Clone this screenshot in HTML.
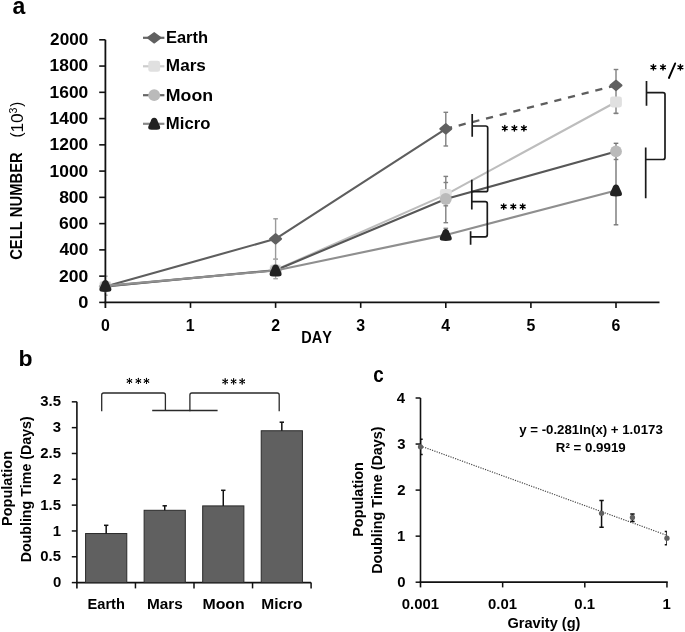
<!DOCTYPE html>
<html><head><meta charset="utf-8"><style>
html,body{margin:0;padding:0;background:#fff;}
svg{display:block;will-change:transform;}
text{font-family:"Liberation Sans",sans-serif;font-kerning:none;}
</style></head><body>
<svg width="685" height="632" viewBox="0 0 685 632">
<rect width="685" height="632" fill="#fff"/>
<text x="12.42" y="14.10" font-size="24.50" textLength="12.83" lengthAdjust="spacingAndGlyphs" fill="#000" font-weight="bold" >a</text>
<line x1="99.20" y1="302.40" x2="105.40" y2="302.40" stroke="#111" stroke-width="1.6" />
<text x="78.18" y="307.80" font-size="15.60" textLength="10.17" lengthAdjust="spacingAndGlyphs" fill="#000" font-weight="bold" >0</text>
<line x1="99.20" y1="276.14" x2="105.40" y2="276.14" stroke="#111" stroke-width="1.6" />
<text x="59.09" y="281.54" font-size="15.60" textLength="29.23" lengthAdjust="spacingAndGlyphs" fill="#000" font-weight="bold" >200</text>
<line x1="99.20" y1="249.88" x2="105.40" y2="249.88" stroke="#111" stroke-width="1.6" />
<text x="59.44" y="255.28" font-size="15.60" textLength="28.87" lengthAdjust="spacingAndGlyphs" fill="#000" font-weight="bold" >400</text>
<line x1="99.20" y1="223.62" x2="105.40" y2="223.62" stroke="#111" stroke-width="1.6" />
<text x="59.06" y="229.02" font-size="15.60" textLength="29.26" lengthAdjust="spacingAndGlyphs" fill="#000" font-weight="bold" >600</text>
<line x1="99.20" y1="197.36" x2="105.40" y2="197.36" stroke="#111" stroke-width="1.6" />
<text x="59.15" y="202.76" font-size="15.60" textLength="29.17" lengthAdjust="spacingAndGlyphs" fill="#000" font-weight="bold" >800</text>
<line x1="99.20" y1="171.10" x2="105.40" y2="171.10" stroke="#111" stroke-width="1.6" />
<text x="49.60" y="176.50" font-size="15.60" textLength="38.71" lengthAdjust="spacingAndGlyphs" fill="#000" font-weight="bold" >1000</text>
<line x1="99.20" y1="144.84" x2="105.40" y2="144.84" stroke="#111" stroke-width="1.6" />
<text x="49.60" y="150.24" font-size="15.60" textLength="38.71" lengthAdjust="spacingAndGlyphs" fill="#000" font-weight="bold" >1200</text>
<line x1="99.20" y1="118.58" x2="105.40" y2="118.58" stroke="#111" stroke-width="1.6" />
<text x="49.60" y="123.98" font-size="15.60" textLength="38.71" lengthAdjust="spacingAndGlyphs" fill="#000" font-weight="bold" >1400</text>
<line x1="99.20" y1="92.32" x2="105.40" y2="92.32" stroke="#111" stroke-width="1.6" />
<text x="49.60" y="97.72" font-size="15.60" textLength="38.71" lengthAdjust="spacingAndGlyphs" fill="#000" font-weight="bold" >1600</text>
<line x1="99.20" y1="66.06" x2="105.40" y2="66.06" stroke="#111" stroke-width="1.6" />
<text x="49.60" y="71.46" font-size="15.60" textLength="38.71" lengthAdjust="spacingAndGlyphs" fill="#000" font-weight="bold" >1800</text>
<line x1="99.20" y1="39.80" x2="105.40" y2="39.80" stroke="#111" stroke-width="1.6" />
<text x="50.10" y="45.20" font-size="15.60" textLength="38.20" lengthAdjust="spacingAndGlyphs" fill="#000" font-weight="bold" >2000</text>
<line x1="190.50" y1="302.40" x2="190.50" y2="307.90" stroke="#111" stroke-width="1.6" />
<line x1="275.60" y1="302.40" x2="275.60" y2="307.90" stroke="#111" stroke-width="1.6" />
<line x1="360.70" y1="302.40" x2="360.70" y2="307.90" stroke="#111" stroke-width="1.6" />
<line x1="445.80" y1="302.40" x2="445.80" y2="307.90" stroke="#111" stroke-width="1.6" />
<line x1="530.90" y1="302.40" x2="530.90" y2="307.90" stroke="#111" stroke-width="1.6" />
<line x1="616.00" y1="302.40" x2="616.00" y2="307.90" stroke="#111" stroke-width="1.6" />
<text x="100.99" y="330.80" font-size="15.60" textLength="8.85" lengthAdjust="spacingAndGlyphs" fill="#000" font-weight="bold" >0</text>
<text x="185.80" y="330.80" font-size="15.60" textLength="8.85" lengthAdjust="spacingAndGlyphs" fill="#000" font-weight="bold" >1</text>
<text x="271.22" y="330.80" font-size="15.60" textLength="8.85" lengthAdjust="spacingAndGlyphs" fill="#000" font-weight="bold" >2</text>
<text x="356.38" y="330.80" font-size="15.60" textLength="8.85" lengthAdjust="spacingAndGlyphs" fill="#000" font-weight="bold" >3</text>
<text x="441.30" y="330.80" font-size="15.60" textLength="8.85" lengthAdjust="spacingAndGlyphs" fill="#000" font-weight="bold" >4</text>
<text x="526.45" y="330.80" font-size="15.60" textLength="8.85" lengthAdjust="spacingAndGlyphs" fill="#000" font-weight="bold" >5</text>
<text x="611.57" y="330.80" font-size="15.60" textLength="8.85" lengthAdjust="spacingAndGlyphs" fill="#000" font-weight="bold" >6</text>
<text x="301.33" y="342.80" font-size="16.00" textLength="30.60" lengthAdjust="spacingAndGlyphs" fill="#000" font-weight="bold" >DAY</text>
<g transform="translate(22.40,259.20) rotate(-90)"><text x="-0.61" y="0" font-size="15.60" textLength="107.51" lengthAdjust="spacingAndGlyphs" fill="#000" font-weight="bold">CELL NUMBER</text></g>
<g transform="translate(21.75,136.60) rotate(-90)"><text x="-0.94" y="0" font-size="17.20" textLength="5.02" lengthAdjust="spacingAndGlyphs" fill="#000" font-weight="normal">(</text></g>
<g transform="translate(22.60,131.20) rotate(-90)"><text x="-1.31" y="0" font-size="16.20" textLength="19.19" lengthAdjust="spacingAndGlyphs" fill="#000" font-weight="normal">10</text></g>
<g transform="translate(16.90,113.00) rotate(-90)"><text x="-0.40" y="0" font-size="10.90" textLength="5.87" lengthAdjust="spacingAndGlyphs" fill="#000" font-weight="normal">3</text></g>
<g transform="translate(21.75,106.60) rotate(-90)"><text x="-0.09" y="0" font-size="17.20" textLength="4.90" lengthAdjust="spacingAndGlyphs" fill="#000" font-weight="normal">)</text></g>
<line x1="275.60" y1="218.80" x2="275.60" y2="259.20" stroke="#9a9a9a" stroke-width="1.4" />
<line x1="273.30" y1="218.80" x2="277.90" y2="218.80" stroke="#9a9a9a" stroke-width="1.4" />
<line x1="273.30" y1="259.20" x2="277.90" y2="259.20" stroke="#9a9a9a" stroke-width="1.4" />
<line x1="445.80" y1="112.30" x2="445.80" y2="146.00" stroke="#808080" stroke-width="1.4" />
<line x1="443.50" y1="112.30" x2="448.10" y2="112.30" stroke="#808080" stroke-width="1.4" />
<line x1="443.50" y1="146.00" x2="448.10" y2="146.00" stroke="#808080" stroke-width="1.4" />
<line x1="616.00" y1="69.50" x2="616.00" y2="101.50" stroke="#808080" stroke-width="1.4" />
<line x1="613.70" y1="69.50" x2="618.30" y2="69.50" stroke="#808080" stroke-width="1.4" />
<line x1="613.70" y1="101.50" x2="618.30" y2="101.50" stroke="#808080" stroke-width="1.4" />
<line x1="105.40" y1="276.20" x2="105.40" y2="295.20" stroke="#aaaaaa" stroke-width="1.4" />
<line x1="105.40" y1="276.20" x2="107.70" y2="276.20" stroke="#aaaaaa" stroke-width="1.4" />
<line x1="105.40" y1="295.20" x2="107.70" y2="295.20" stroke="#aaaaaa" stroke-width="1.4" />
<line x1="275.60" y1="259.20" x2="275.60" y2="278.70" stroke="#aaaaaa" stroke-width="1.4" />
<line x1="273.30" y1="259.20" x2="277.90" y2="259.20" stroke="#aaaaaa" stroke-width="1.4" />
<line x1="273.30" y1="278.70" x2="277.90" y2="278.70" stroke="#aaaaaa" stroke-width="1.4" />
<line x1="445.80" y1="176.40" x2="445.80" y2="222.70" stroke="#808080" stroke-width="1.4" />
<line x1="443.50" y1="176.40" x2="448.10" y2="176.40" stroke="#808080" stroke-width="1.4" />
<line x1="443.50" y1="222.70" x2="448.10" y2="222.70" stroke="#808080" stroke-width="1.4" />
<line x1="616.00" y1="113.40" x2="616.00" y2="113.40" stroke="#808080" stroke-width="1.4" />
<line x1="613.70" y1="113.40" x2="618.30" y2="113.40" stroke="#808080" stroke-width="1.4" />
<line x1="613.70" y1="113.40" x2="618.30" y2="113.40" stroke="#808080" stroke-width="1.4" />
<line x1="616.00" y1="143.30" x2="616.00" y2="224.80" stroke="#777777" stroke-width="1.4" />
<line x1="613.70" y1="143.30" x2="618.30" y2="143.30" stroke="#777777" stroke-width="1.4" />
<line x1="613.70" y1="224.80" x2="618.30" y2="224.80" stroke="#777777" stroke-width="1.4" />
<line x1="445.80" y1="228.30" x2="445.80" y2="236.00" stroke="#8a8a8a" stroke-width="1.4" />
<line x1="443.50" y1="228.30" x2="448.10" y2="228.30" stroke="#8a8a8a" stroke-width="1.4" />
<line x1="443.50" y1="236.00" x2="448.10" y2="236.00" stroke="#8a8a8a" stroke-width="1.4" />
<line x1="443.50" y1="182.50" x2="448.10" y2="182.50" stroke="#808080" stroke-width="1.4" />
<line x1="443.50" y1="205.80" x2="448.10" y2="205.80" stroke="#808080" stroke-width="1.4" />
<line x1="613.70" y1="159.50" x2="618.30" y2="159.50" stroke="#808080" stroke-width="1.4" />
<line x1="616.00" y1="102.00" x2="616.00" y2="113.40" stroke="#808080" stroke-width="1.4" />
<line x1="105.40" y1="39.80" x2="105.40" y2="307.90" stroke="#111" stroke-width="1.8" />
<line x1="104.50" y1="302.40" x2="659.50" y2="302.40" stroke="#111" stroke-width="1.8" />
<polyline points="105.40,286.40 275.60,238.80 445.80,128.80" fill="none" stroke="#5e5e5e" stroke-width="2.1" stroke-linejoin="round"/>
<line x1="445.80" y1="128.80" x2="616.00" y2="85.40" stroke="#5e5e5e" stroke-width="2.3" stroke-dasharray="7.2 6.9" stroke-dashoffset="0.8"/>
<path d="M100.10,286.40L105.40,281.90L110.70,286.40L105.40,290.90Z" fill="#606060" stroke="#606060" stroke-width="2.4" stroke-linejoin="round"/>
<path d="M270.30,238.80L275.60,234.30L280.90,238.80L275.60,243.30Z" fill="#606060" stroke="#606060" stroke-width="2.4" stroke-linejoin="round"/>
<path d="M440.50,128.80L445.80,124.30L451.10,128.80L445.80,133.30Z" fill="#606060" stroke="#606060" stroke-width="2.4" stroke-linejoin="round"/>
<path d="M610.70,85.40L616.00,80.90L621.30,85.40L616.00,89.90Z" fill="#606060" stroke="#606060" stroke-width="2.4" stroke-linejoin="round"/>
<polyline points="105.40,286.40 275.60,270.00 445.80,194.60 616.00,102.00" fill="none" stroke="#bdbdbd" stroke-width="2.1" stroke-linejoin="round"/>
<rect x="99.50" y="280.90" width="11.8" height="11" rx="2.4" fill="#e0e0e0"/>
<rect x="269.70" y="264.50" width="11.8" height="11" rx="2.4" fill="#e0e0e0"/>
<rect x="439.90" y="189.10" width="11.8" height="11" rx="2.4" fill="#e0e0e0"/>
<rect x="610.10" y="96.50" width="11.8" height="11" rx="2.4" fill="#e0e0e0"/>
<polyline points="105.40,286.40 275.60,270.20 445.80,199.00 616.00,151.40" fill="none" stroke="#575757" stroke-width="2.1" stroke-linejoin="round"/>
<circle cx="105.40" cy="286.40" r="5.9" fill="#bababa"/>
<circle cx="275.60" cy="270.20" r="5.9" fill="#bababa"/>
<circle cx="445.80" cy="199.00" r="5.9" fill="#bababa"/>
<circle cx="616.00" cy="151.40" r="5.9" fill="#bababa"/>
<polyline points="105.40,285.90 275.60,270.50 445.80,234.90 616.00,190.40" fill="none" stroke="#8f8f8f" stroke-width="2.1" stroke-linejoin="round"/>
<path transform="translate(105.40,285.90)" d="M0,-6C2.2,-6 2.8,-4.6 3.6,-2.4C4.6,0.2 6.2,2.2 6,3.9C5.8,5.9 3.8,6 0,6C-3.8,6 -5.8,5.9 -6,3.9C-6.2,2.2 -4.6,0.2 -3.6,-2.4C-2.8,-4.6 -2.2,-6 0,-6Z" fill="#222222"/>
<path transform="translate(275.60,270.50)" d="M0,-6C2.2,-6 2.8,-4.6 3.6,-2.4C4.6,0.2 6.2,2.2 6,3.9C5.8,5.9 3.8,6 0,6C-3.8,6 -5.8,5.9 -6,3.9C-6.2,2.2 -4.6,0.2 -3.6,-2.4C-2.8,-4.6 -2.2,-6 0,-6Z" fill="#222222"/>
<path transform="translate(445.80,234.90)" d="M0,-6C2.2,-6 2.8,-4.6 3.6,-2.4C4.6,0.2 6.2,2.2 6,3.9C5.8,5.9 3.8,6 0,6C-3.8,6 -5.8,5.9 -6,3.9C-6.2,2.2 -4.6,0.2 -3.6,-2.4C-2.8,-4.6 -2.2,-6 0,-6Z" fill="#222222"/>
<path transform="translate(616.00,190.40)" d="M0,-6C2.2,-6 2.8,-4.6 3.6,-2.4C4.6,0.2 6.2,2.2 6,3.9C5.8,5.9 3.8,6 0,6C-3.8,6 -5.8,5.9 -6,3.9C-6.2,2.2 -4.6,0.2 -3.6,-2.4C-2.8,-4.6 -2.2,-6 0,-6Z" fill="#222222"/>
<line x1="143.00" y1="37.80" x2="164.40" y2="37.80" stroke="#666666" stroke-width="2.2" />
<path d="M148.40,37.80L154.20,33.35L160.00,37.80L154.20,42.25Z" fill="#606060" stroke="#606060" stroke-width="2.4" stroke-linejoin="round"/>
<text x="165.90" y="43.10" font-size="15.80" textLength="42.12" lengthAdjust="spacingAndGlyphs" fill="#000" font-weight="bold" >Earth</text>
<line x1="143.00" y1="66.30" x2="164.40" y2="66.30" stroke="#cccccc" stroke-width="2.2" />
<rect x="148.30" y="60.80" width="11.8" height="11" rx="2.4" fill="#e0e0e0"/>
<text x="165.85" y="71.10" font-size="15.80" textLength="40.05" lengthAdjust="spacingAndGlyphs" fill="#000" font-weight="bold" >Mars</text>
<line x1="143.00" y1="95.20" x2="164.40" y2="95.20" stroke="#666666" stroke-width="2.2" />
<circle cx="154.20" cy="95.20" r="5.9" fill="#bababa"/>
<text x="165.81" y="100.80" font-size="15.80" textLength="47.29" lengthAdjust="spacingAndGlyphs" fill="#000" font-weight="bold" >Moon</text>
<line x1="143.00" y1="123.80" x2="164.40" y2="123.80" stroke="#888888" stroke-width="2.2" />
<path transform="translate(154.20,123.80)" d="M0,-6C2.2,-6 2.8,-4.6 3.6,-2.4C4.6,0.2 6.2,2.2 6,3.9C5.8,5.9 3.8,6 0,6C-3.8,6 -5.8,5.9 -6,3.9C-6.2,2.2 -4.6,0.2 -3.6,-2.4C-2.8,-4.6 -2.2,-6 0,-6Z" fill="#222222"/>
<text x="165.88" y="129.30" font-size="15.80" textLength="44.47" lengthAdjust="spacingAndGlyphs" fill="#000" font-weight="bold" >Micro</text>
<path d="M472.2,113.9V136.7M472.2,126H485.7Q487.7,126 487.7,128V189.9Q487.7,191.7 485.7,191.7H471.8" fill="none" stroke="#1a1a1a" stroke-width="1.7"/>
<path d="M471.8,179.8V209.4M471.8,201.6H485.3Q487.3,201.6 487.3,203.6V234.8Q487.3,236.8 485.3,236.8H470.6M470.6,231.3V244.8" fill="none" stroke="#1a1a1a" stroke-width="1.7"/>
<path d="M646.5,80.9V105.8M646.5,92.6H663Q665,92.6 665,94.6V157.5Q665,159.5 663,159.5H645.7M645.7,147.6V198.3" fill="none" stroke="#1a1a1a" stroke-width="1.7"/>
<path d="M504.80,125.50L504.80,130.90M502.46,126.85L507.14,129.55M507.14,126.85L502.46,129.55" stroke="#000" stroke-width="1.45" stroke-linecap="round" fill="none"/><circle cx="504.80" cy="128.20" r="1.23" fill="#000"/>
<path d="M514.40,125.50L514.40,130.90M512.06,126.85L516.74,129.55M516.74,126.85L512.06,129.55" stroke="#000" stroke-width="1.45" stroke-linecap="round" fill="none"/><circle cx="514.40" cy="128.20" r="1.23" fill="#000"/>
<path d="M523.90,125.50L523.90,130.90M521.56,126.85L526.24,129.55M526.24,126.85L521.56,129.55" stroke="#000" stroke-width="1.45" stroke-linecap="round" fill="none"/><circle cx="523.90" cy="128.20" r="1.23" fill="#000"/>
<path d="M503.70,203.85L503.70,209.35M501.32,205.22L506.08,207.97M506.08,205.22L501.32,207.97" stroke="#000" stroke-width="1.45" stroke-linecap="round" fill="none"/><circle cx="503.70" cy="206.60" r="1.23" fill="#000"/>
<path d="M513.30,203.85L513.30,209.35M510.92,205.22L515.68,207.97M515.68,205.22L510.92,207.97" stroke="#000" stroke-width="1.45" stroke-linecap="round" fill="none"/><circle cx="513.30" cy="206.60" r="1.23" fill="#000"/>
<path d="M522.70,203.85L522.70,209.35M520.32,205.22L525.08,207.97M525.08,205.22L520.32,207.97" stroke="#000" stroke-width="1.45" stroke-linecap="round" fill="none"/><circle cx="522.70" cy="206.60" r="1.23" fill="#000"/>
<path d="M653.40,64.55L653.40,70.05M651.02,65.92L655.78,68.67M655.78,65.92L651.02,68.67" stroke="#000" stroke-width="1.45" stroke-linecap="round" fill="none"/><circle cx="653.40" cy="67.30" r="1.23" fill="#000"/>
<path d="M663.00,64.55L663.00,70.05M660.62,65.92L665.38,68.67M665.38,65.92L660.62,68.67" stroke="#000" stroke-width="1.45" stroke-linecap="round" fill="none"/><circle cx="663.00" cy="67.30" r="1.23" fill="#000"/>
<path d="M680.40,64.55L680.40,70.05M678.02,65.92L682.78,68.67M682.78,65.92L678.02,68.67" stroke="#000" stroke-width="1.45" stroke-linecap="round" fill="none"/><circle cx="680.40" cy="67.30" r="1.23" fill="#000"/>
<line x1="675.20" y1="63.40" x2="668.90" y2="78.00" stroke="#000" stroke-width="1.9" stroke-linecap="round"/>
<text x="18.48" y="365.70" font-size="21.90" textLength="14.06" lengthAdjust="spacingAndGlyphs" fill="#000" font-weight="bold" >b</text>
<line x1="76.90" y1="401.83" x2="76.90" y2="588.40" stroke="#111" stroke-width="1.6" />
<line x1="76.10" y1="582.60" x2="311.10" y2="582.60" stroke="#111" stroke-width="1.8" />
<line x1="71.80" y1="582.60" x2="76.90" y2="582.60" stroke="#111" stroke-width="1.5" />
<text x="52.92" y="587.20" font-size="14.20" textLength="8.29" lengthAdjust="spacingAndGlyphs" fill="#000" font-weight="bold" >0</text>
<line x1="71.80" y1="556.77" x2="76.90" y2="556.77" stroke="#111" stroke-width="1.5" />
<text x="40.29" y="561.38" font-size="14.20" textLength="20.73" lengthAdjust="spacingAndGlyphs" fill="#000" font-weight="bold" >0.5</text>
<line x1="71.80" y1="530.95" x2="76.90" y2="530.95" stroke="#111" stroke-width="1.5" />
<text x="52.72" y="535.55" font-size="14.20" textLength="8.29" lengthAdjust="spacingAndGlyphs" fill="#000" font-weight="bold" >1</text>
<line x1="71.80" y1="505.12" x2="76.90" y2="505.12" stroke="#111" stroke-width="1.5" />
<text x="40.29" y="509.73" font-size="14.20" textLength="20.73" lengthAdjust="spacingAndGlyphs" fill="#000" font-weight="bold" >1.5</text>
<line x1="71.80" y1="479.30" x2="76.90" y2="479.30" stroke="#111" stroke-width="1.5" />
<text x="52.90" y="483.90" font-size="14.20" textLength="8.29" lengthAdjust="spacingAndGlyphs" fill="#000" font-weight="bold" >2</text>
<line x1="71.80" y1="453.48" x2="76.90" y2="453.48" stroke="#111" stroke-width="1.5" />
<text x="40.29" y="458.08" font-size="14.20" textLength="20.73" lengthAdjust="spacingAndGlyphs" fill="#000" font-weight="bold" >2.5</text>
<line x1="71.80" y1="427.65" x2="76.90" y2="427.65" stroke="#111" stroke-width="1.5" />
<text x="52.85" y="432.25" font-size="14.20" textLength="8.29" lengthAdjust="spacingAndGlyphs" fill="#000" font-weight="bold" >3</text>
<line x1="71.80" y1="401.83" x2="76.90" y2="401.83" stroke="#111" stroke-width="1.5" />
<text x="40.29" y="406.43" font-size="14.20" textLength="20.73" lengthAdjust="spacingAndGlyphs" fill="#000" font-weight="bold" >3.5</text>
<line x1="135.45" y1="582.60" x2="135.45" y2="588.40" stroke="#111" stroke-width="1.5" />
<line x1="194.00" y1="582.60" x2="194.00" y2="588.40" stroke="#111" stroke-width="1.5" />
<line x1="252.55" y1="582.60" x2="252.55" y2="588.40" stroke="#111" stroke-width="1.5" />
<line x1="311.10" y1="582.60" x2="311.10" y2="588.40" stroke="#111" stroke-width="1.5" />
<rect x="85.58" y="533.53" width="41.2" height="49.07" fill="#606060" stroke="#2a2a2a" stroke-width="1"/>
<line x1="106.18" y1="525.30" x2="106.18" y2="533.53" stroke="#111" stroke-width="1.5" />
<line x1="103.98" y1="525.30" x2="108.38" y2="525.30" stroke="#111" stroke-width="1.5" />
<text x="87.52" y="609.20" font-size="14.40" textLength="37.39" lengthAdjust="spacingAndGlyphs" fill="#000" font-weight="bold" >Earth</text>
<rect x="144.12" y="510.29" width="41.2" height="72.31" fill="#606060" stroke="#2a2a2a" stroke-width="1"/>
<line x1="164.72" y1="505.80" x2="164.72" y2="510.29" stroke="#111" stroke-width="1.5" />
<line x1="162.53" y1="505.80" x2="166.92" y2="505.80" stroke="#111" stroke-width="1.5" />
<text x="146.97" y="609.20" font-size="14.40" textLength="35.86" lengthAdjust="spacingAndGlyphs" fill="#000" font-weight="bold" >Mars</text>
<rect x="202.68" y="505.90" width="41.2" height="76.70" fill="#606060" stroke="#2a2a2a" stroke-width="1"/>
<line x1="223.28" y1="490.30" x2="223.28" y2="505.90" stroke="#111" stroke-width="1.5" />
<line x1="221.08" y1="490.30" x2="225.47" y2="490.30" stroke="#111" stroke-width="1.5" />
<text x="202.44" y="609.20" font-size="14.40" textLength="42.24" lengthAdjust="spacingAndGlyphs" fill="#000" font-weight="bold" >Moon</text>
<rect x="261.22" y="430.75" width="41.2" height="151.85" fill="#606060" stroke="#2a2a2a" stroke-width="1"/>
<line x1="281.82" y1="422.20" x2="281.82" y2="430.75" stroke="#111" stroke-width="1.5" />
<line x1="279.62" y1="422.20" x2="284.02" y2="422.20" stroke="#111" stroke-width="1.5" />
<text x="261.26" y="609.20" font-size="14.40" textLength="41.34" lengthAdjust="spacingAndGlyphs" fill="#000" font-weight="bold" >Micro</text>
<path d="M101.7,411.3V395Q101.7,393 103.7,393H163.4Q165.4,393 165.4,395V411" fill="none" stroke="#2a2a2a" stroke-width="1.3"/>
<path d="M189.9,411.3V395Q189.9,393 191.9,393H277.2Q279.2,393 279.2,395V411.3" fill="none" stroke="#2a2a2a" stroke-width="1.3"/>
<line x1="152.20" y1="410.50" x2="217.60" y2="410.50" stroke="#2a2a2a" stroke-width="1.3" />
<path d="M129.45,378.40L129.45,383.40M127.28,379.65L131.62,382.15M131.62,379.65L127.28,382.15" stroke="#000" stroke-width="0.95" stroke-linecap="round" fill="none"/><circle cx="129.45" cy="380.90" r="0.90" fill="#000"/><circle cx="129.45" cy="378.40" r="0.62" fill="#000"/><circle cx="129.45" cy="383.40" r="0.62" fill="#000"/><circle cx="127.28" cy="379.65" r="0.62" fill="#000"/><circle cx="131.62" cy="382.15" r="0.62" fill="#000"/><circle cx="131.62" cy="379.65" r="0.62" fill="#000"/><circle cx="127.28" cy="382.15" r="0.62" fill="#000"/>
<path d="M138.40,378.40L138.40,383.40M136.23,379.65L140.57,382.15M140.57,379.65L136.23,382.15" stroke="#000" stroke-width="0.95" stroke-linecap="round" fill="none"/><circle cx="138.40" cy="380.90" r="0.90" fill="#000"/><circle cx="138.40" cy="378.40" r="0.62" fill="#000"/><circle cx="138.40" cy="383.40" r="0.62" fill="#000"/><circle cx="136.23" cy="379.65" r="0.62" fill="#000"/><circle cx="140.57" cy="382.15" r="0.62" fill="#000"/><circle cx="140.57" cy="379.65" r="0.62" fill="#000"/><circle cx="136.23" cy="382.15" r="0.62" fill="#000"/>
<path d="M146.50,378.40L146.50,383.40M144.33,379.65L148.67,382.15M148.67,379.65L144.33,382.15" stroke="#000" stroke-width="0.95" stroke-linecap="round" fill="none"/><circle cx="146.50" cy="380.90" r="0.90" fill="#000"/><circle cx="146.50" cy="378.40" r="0.62" fill="#000"/><circle cx="146.50" cy="383.40" r="0.62" fill="#000"/><circle cx="144.33" cy="379.65" r="0.62" fill="#000"/><circle cx="148.67" cy="382.15" r="0.62" fill="#000"/><circle cx="148.67" cy="379.65" r="0.62" fill="#000"/><circle cx="144.33" cy="382.15" r="0.62" fill="#000"/>
<path d="M225.20,378.90L225.20,383.90M223.03,380.15L227.37,382.65M227.37,380.15L223.03,382.65" stroke="#000" stroke-width="1.0" stroke-linecap="round" fill="none"/><circle cx="225.20" cy="381.40" r="0.95" fill="#000"/><circle cx="225.20" cy="378.90" r="0.65" fill="#000"/><circle cx="225.20" cy="383.90" r="0.65" fill="#000"/><circle cx="223.03" cy="380.15" r="0.65" fill="#000"/><circle cx="227.37" cy="382.65" r="0.65" fill="#000"/><circle cx="227.37" cy="380.15" r="0.65" fill="#000"/><circle cx="223.03" cy="382.65" r="0.65" fill="#000"/>
<path d="M233.60,378.90L233.60,383.90M231.43,380.15L235.77,382.65M235.77,380.15L231.43,382.65" stroke="#000" stroke-width="1.0" stroke-linecap="round" fill="none"/><circle cx="233.60" cy="381.40" r="0.95" fill="#000"/><circle cx="233.60" cy="378.90" r="0.65" fill="#000"/><circle cx="233.60" cy="383.90" r="0.65" fill="#000"/><circle cx="231.43" cy="380.15" r="0.65" fill="#000"/><circle cx="235.77" cy="382.65" r="0.65" fill="#000"/><circle cx="235.77" cy="380.15" r="0.65" fill="#000"/><circle cx="231.43" cy="382.65" r="0.65" fill="#000"/>
<path d="M242.20,378.90L242.20,383.90M240.03,380.15L244.37,382.65M244.37,380.15L240.03,382.65" stroke="#000" stroke-width="1.0" stroke-linecap="round" fill="none"/><circle cx="242.20" cy="381.40" r="0.95" fill="#000"/><circle cx="242.20" cy="378.90" r="0.65" fill="#000"/><circle cx="242.20" cy="383.90" r="0.65" fill="#000"/><circle cx="240.03" cy="380.15" r="0.65" fill="#000"/><circle cx="244.37" cy="382.65" r="0.65" fill="#000"/><circle cx="244.37" cy="380.15" r="0.65" fill="#000"/><circle cx="240.03" cy="382.65" r="0.65" fill="#000"/>
<g transform="translate(12.00,525.10) rotate(-90)"><text x="-0.97" y="0" font-size="14.20" textLength="75.18" lengthAdjust="spacingAndGlyphs" fill="#000" font-weight="bold">Population</text></g>
<g transform="translate(31.40,561.40) rotate(-90)"><text x="-0.95" y="0" font-size="14.20" textLength="146.06" lengthAdjust="spacingAndGlyphs" fill="#000" font-weight="bold">Doubling Time (Days)</text></g>
<text x="373.26" y="381.60" font-size="22.60" textLength="10.49" lengthAdjust="spacingAndGlyphs" fill="#000" font-weight="bold" >c</text>
<line x1="420.50" y1="398.00" x2="420.50" y2="587.40" stroke="#111" stroke-width="1.6" />
<line x1="419.70" y1="582.20" x2="667.75" y2="582.20" stroke="#111" stroke-width="1.8" />
<line x1="415.60" y1="582.20" x2="420.50" y2="582.20" stroke="#111" stroke-width="1.5" />
<text x="397.22" y="587.00" font-size="14.20" textLength="8.29" lengthAdjust="spacingAndGlyphs" fill="#000" font-weight="bold" >0</text>
<line x1="415.60" y1="536.15" x2="420.50" y2="536.15" stroke="#111" stroke-width="1.5" />
<text x="397.02" y="540.95" font-size="14.20" textLength="8.29" lengthAdjust="spacingAndGlyphs" fill="#000" font-weight="bold" >1</text>
<line x1="415.60" y1="490.10" x2="420.50" y2="490.10" stroke="#111" stroke-width="1.5" />
<text x="397.20" y="494.90" font-size="14.20" textLength="8.29" lengthAdjust="spacingAndGlyphs" fill="#000" font-weight="bold" >2</text>
<line x1="415.60" y1="444.05" x2="420.50" y2="444.05" stroke="#111" stroke-width="1.5" />
<text x="397.15" y="448.85" font-size="14.20" textLength="8.29" lengthAdjust="spacingAndGlyphs" fill="#000" font-weight="bold" >3</text>
<line x1="415.60" y1="398.00" x2="420.50" y2="398.00" stroke="#111" stroke-width="1.5" />
<text x="396.69" y="402.80" font-size="14.20" textLength="8.29" lengthAdjust="spacingAndGlyphs" fill="#000" font-weight="bold" >4</text>
<text x="401.76" y="609.30" font-size="14.20" textLength="37.31" lengthAdjust="spacingAndGlyphs" fill="#000" font-weight="bold" >0.001</text>
<line x1="502.65" y1="582.20" x2="502.65" y2="587.40" stroke="#111" stroke-width="1.5" />
<text x="488.05" y="609.30" font-size="14.20" textLength="29.02" lengthAdjust="spacingAndGlyphs" fill="#000" font-weight="bold" >0.01</text>
<line x1="584.80" y1="582.20" x2="584.80" y2="587.40" stroke="#111" stroke-width="1.5" />
<text x="574.35" y="609.30" font-size="14.20" textLength="20.73" lengthAdjust="spacingAndGlyphs" fill="#000" font-weight="bold" >0.1</text>
<line x1="666.95" y1="582.20" x2="666.95" y2="587.40" stroke="#111" stroke-width="1.5" />
<text x="662.54" y="609.30" font-size="14.20" textLength="8.29" lengthAdjust="spacingAndGlyphs" fill="#000" font-weight="bold" >1</text>
<text x="507.50" y="627.50" font-size="14.60" textLength="72.92" lengthAdjust="spacingAndGlyphs" fill="#000" font-weight="bold" >Gravity (g)</text>
<g transform="translate(362.70,535.80) rotate(-90)"><text x="-0.97" y="0" font-size="14.20" textLength="74.66" lengthAdjust="spacingAndGlyphs" fill="#000" font-weight="bold">Population</text></g>
<g transform="translate(381.90,572.80) rotate(-90)"><text x="-0.96" y="0" font-size="14.20" textLength="147.17" lengthAdjust="spacingAndGlyphs" fill="#000" font-weight="bold">Doubling Time (Days)</text></g>
<text x="519.20" y="434.20" font-size="12.40" textLength="143.58" lengthAdjust="spacingAndGlyphs" fill="#000" font-weight="bold" >y = -0.281ln(x) + 1.0173</text>
<text x="555.81" y="451.90" font-size="12.40" textLength="69.88" lengthAdjust="spacingAndGlyphs" fill="#000" font-weight="bold" >R² = 0.9919</text>
<clipPath id="cp"><rect x="420.5" y="380" width="246.45" height="202.20"/></clipPath>
<line x1="420.50" y1="445.97" x2="666.95" y2="535.35" stroke="#444" stroke-width="1.15" stroke-dasharray="1.2 1.25"/>
<g clip-path="url(#cp)"><line x1="420.50" y1="439.20" x2="420.50" y2="454.50" stroke="#111" stroke-width="1.5" /><line x1="418.30" y1="439.20" x2="422.70" y2="439.20" stroke="#111" stroke-width="1.5" /><line x1="418.30" y1="454.50" x2="422.70" y2="454.50" stroke="#111" stroke-width="1.5" /></g>
<circle cx="420.50" cy="446.80" r="2.65" fill="#606060"/>
<g clip-path="url(#cp)"><line x1="601.57" y1="500.50" x2="601.57" y2="527.30" stroke="#111" stroke-width="1.5" /><line x1="599.37" y1="500.50" x2="603.77" y2="500.50" stroke="#111" stroke-width="1.5" /><line x1="599.37" y1="527.30" x2="603.77" y2="527.30" stroke="#111" stroke-width="1.5" /></g>
<circle cx="601.57" cy="513.30" r="2.65" fill="#606060"/>
<g clip-path="url(#cp)"><line x1="632.43" y1="514.00" x2="632.43" y2="521.50" stroke="#111" stroke-width="1.5" /><line x1="630.23" y1="514.00" x2="634.63" y2="514.00" stroke="#111" stroke-width="1.5" /><line x1="630.23" y1="521.50" x2="634.63" y2="521.50" stroke="#111" stroke-width="1.5" /></g>
<circle cx="632.43" cy="517.50" r="2.65" fill="#606060"/>
<g clip-path="url(#cp)"><line x1="666.95" y1="531.50" x2="666.95" y2="544.80" stroke="#111" stroke-width="1.5" /><line x1="664.75" y1="531.50" x2="669.15" y2="531.50" stroke="#111" stroke-width="1.5" /><line x1="664.75" y1="544.80" x2="669.15" y2="544.80" stroke="#111" stroke-width="1.5" /></g>
<circle cx="666.95" cy="538.20" r="2.65" fill="#606060"/>
</svg>
</body></html>
